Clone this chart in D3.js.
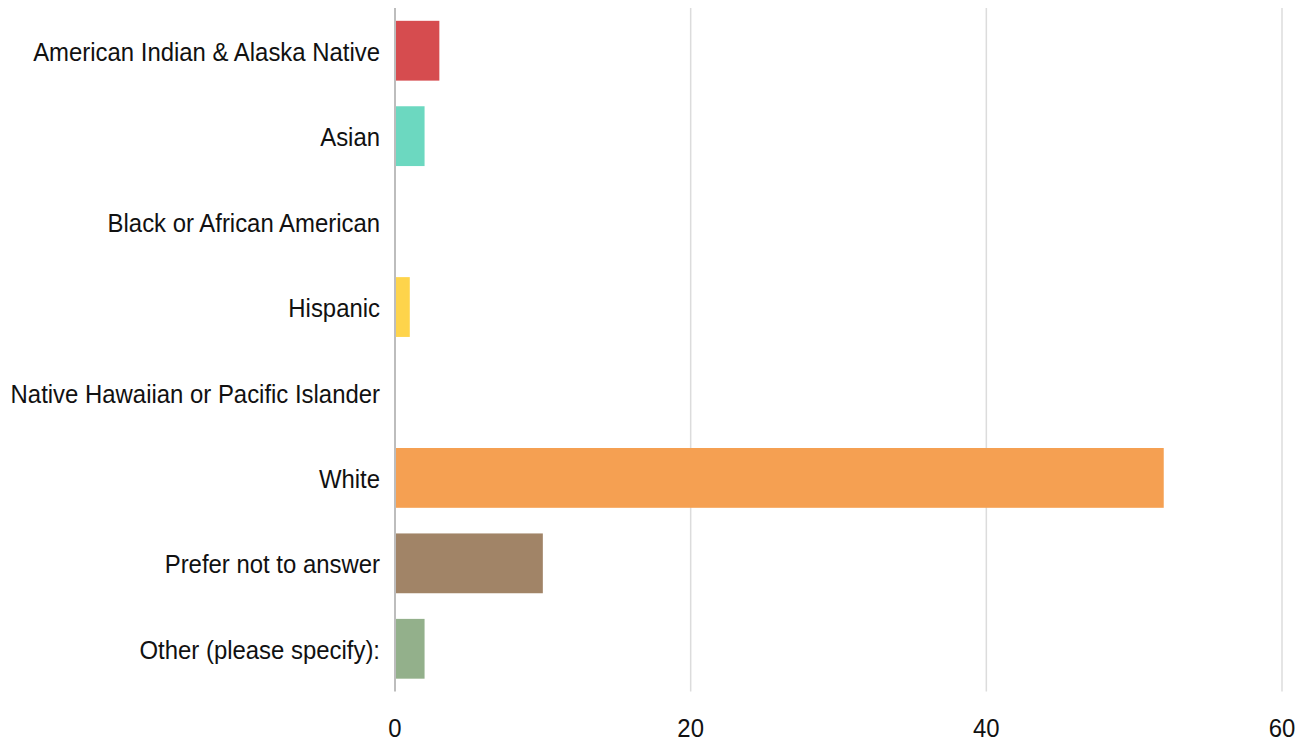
<!DOCTYPE html>
<html>
<head>
<meta charset="utf-8">
<script src="https://cdn.jsdelivr.net/npm/d3@7"></script>
<style>
  body { margin: 0; background: #fff; }
  svg text { font-family: "Liberation Sans", Arial, sans-serif; fill: #111; }
</style>
</head>
<body>
<svg id="chart" width="1307" height="742"></svg>
<script>
const categories = [
  "American Indian & Alaska Native",
  "Asian",
  "Black or African American",
  "Hispanic",
  "Native Hawaiian or Pacific Islander",
  "White",
  "Prefer not to answer",
  "Other (please specify):"
];
const counts = [3, 2, 0, 1, 0, 52, 10, 2];
const colors = ["#d64c4f", "#6cd8c0", "#5b9bd5", "#fed44b", "#b07aa1", "#f5a052", "#a18467", "#93b08b"];
const xTicks = [0, 20, 40, 60];

const svg = d3.select("#chart");
const margin = { left: 395, right: 25, top: 8, bottom: 50.5 };
const width = 1307 - margin.left - margin.right;
const height = 742 - margin.top - margin.bottom;
// the labels in the original are slightly condensed
const squeeze = 0.92;

const g = svg.append("g").attr("transform", `translate(${margin.left},${margin.top})`);

const x = d3.scaleLinear().domain([0, 60]).range([0, width]);
const y = d3.scaleBand().domain(categories).range([0, height]).paddingInner(0.3).paddingOuter(0.15);

// gridlines
g.selectAll(".grid").data(xTicks.slice(1)).enter().append("line")
  .attr("class", "grid")
  .attr("x1", d => x(d)).attr("x2", d => x(d))
  .attr("y1", 0).attr("y2", height)
  .attr("stroke", "#dcdcdc").attr("stroke-width", 1.5);

// bars
g.selectAll(".bar").data(categories).enter().append("rect")
  .attr("class", "bar")
  .attr("x", x(0))
  .attr("y", d => y(d))
  .attr("height", y.bandwidth())
  .attr("width", (d, i) => x(counts[i]) - x(0))
  .attr("fill", (d, i) => colors[i]);

// baseline
g.append("line")
  .attr("x1", x(0)).attr("x2", x(0))
  .attr("y1", 0).attr("y2", height)
  .attr("stroke", "#bdbdbd").attr("stroke-width", 2);

// category labels
g.selectAll(".cat").data(categories).enter().append("text")
  .attr("class", "cat")
  .attr("transform", d => `translate(-15,${y(d) + y.bandwidth() / 2 + 1}) scale(${squeeze},1)`)
  .attr("dy", "0.35em")
  .attr("text-anchor", "end")
  .style("font-size", "26px")
  .text(d => d);

// x tick labels
g.selectAll(".tick-label").data(xTicks).enter().append("text")
  .attr("class", "tick-label")
  .attr("transform", d => `translate(${x(d)},${height + 36}) scale(${squeeze},1)`)
  .attr("dy", "0.35em")
  .attr("text-anchor", "middle")
  .style("font-size", "26px")
  .text(d => d);
</script>
</body>
</html>
